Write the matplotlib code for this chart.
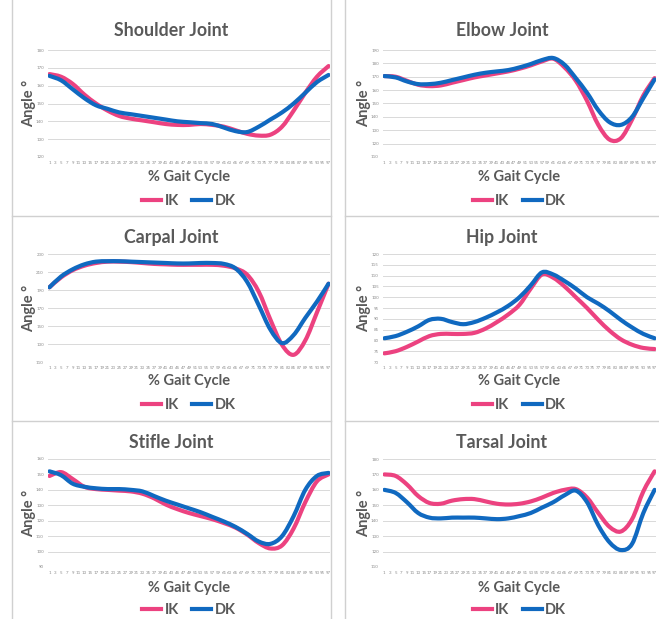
import numpy as np
import matplotlib.pyplot as plt
from matplotlib.lines import Line2D
from matplotlib.path import Path
from matplotlib.patches import PathPatch

plt.rcParams['font.family'] = ['Lato', 'DejaVu Sans']

# % gait cycle sample points
pct = list(range(1, 98, 4))

shoulder_ik = [166.5, 165, 161, 155, 150, 146, 143, 141.5, 140.5, 139.5, 138.5, 138, 138,
               138.5, 138, 137, 135, 133, 132, 132.5, 137, 146, 156, 165, 171]
shoulder_dk = [165.5, 163, 158, 153, 149, 147, 145, 144, 143, 142, 141, 140, 139.5,
               139, 138.5, 136.5, 134.5, 134, 137, 141, 145, 150, 156, 162, 166]

elbow_ik = [170.5, 170, 167, 164, 163, 163.5, 165.5, 167.5, 169.5, 171, 172.5, 174, 176,
            178.5, 181.5, 183.5, 177, 167, 152, 134, 123, 124, 138, 156, 169]
elbow_dk = [170.5, 169.5, 166.5, 164.5, 164.5, 165.5, 167.5, 169.5, 171.5, 173, 174, 175, 177,
            179.5, 182.5, 184, 179, 169, 158, 145, 136, 134, 140, 154, 168]

carpal_ik = [193, 204, 212, 217, 220, 221.5, 221.5, 221, 220, 219, 218.5, 218, 218,
             218, 218, 217, 214, 207, 188, 157, 129, 118, 134, 165, 197]
carpal_dk = [193, 205, 213, 218.5, 221.5, 222, 222, 221.5, 221, 220.5, 220, 219.5, 219.5,
             220, 220, 219, 214, 199, 173, 146, 131, 140, 159, 177, 197]

hip_ik = [74, 75, 77, 79.5, 82, 83, 83, 83, 83.5, 85.5, 88.5, 92, 96.5,
          104, 110.5, 109, 105, 100, 95, 89.5, 84.5, 80.5, 78, 76.5, 76]
hip_dk = [81, 82, 84, 86.5, 89.5, 90, 88.5, 87.5, 88.5, 90.5, 93, 96, 100,
          105.5, 111.5, 110.5, 107.5, 104, 100, 97, 93.5, 89.5, 86, 83, 81]

stifle_ik = [149, 151.5, 147, 142, 140.5, 140, 139.5, 139, 137.5, 134.5, 130.5, 127.5, 125,
             123, 121, 118.5, 115.5, 111, 105.5, 102, 104, 115, 132, 145.5, 150]
stifle_dk = [152, 149.5, 144, 142, 141, 140.5, 140.5, 140, 139, 136, 133, 130.5, 128,
             125.5, 122.5, 119.5, 116, 111.5, 106.5, 105, 110, 123, 140, 149, 151]

tarsal_ik = [170, 169, 163.5, 156, 151.5, 151, 153, 154, 154, 152.5, 151, 150.5, 151,
             152.5, 155, 158, 160, 160.5, 155, 145, 136, 133, 141, 159, 172]
tarsal_dk = [160, 158, 152, 145, 142, 141.5, 142, 142, 142, 141.5, 141, 141.5, 143,
             145, 148.5, 152, 156.5, 159.5, 152, 137, 126, 121, 125, 145, 160]

panels = [
    ("Shoulder Joint", shoulder_ik, shoulder_dk, (120, 180, 10)),
    ("Elbow Joint", elbow_ik, elbow_dk, (110, 190, 10)),
    ("Carpal Joint", carpal_ik, carpal_dk, (110, 230, 20)),
    ("Hip Joint", hip_ik, hip_dk, (70, 120, 5)),
    ("Stifle Joint", stifle_ik, stifle_dk, (90, 160, 10)),
    ("Tarsal Joint", tarsal_ik, tarsal_dk, (110, 180, 10)),
]

W, H = 659, 619
IK_COLOR = '#EC4280'
DK_COLOR = '#1069C0'
TXT = '#595959'
LW = 3.0

fig = plt.figure(figsize=(W / 100, H / 100), dpi=100)


def px_axes(x0, y0, x1, y1):
    return fig.add_axes([x0 / W, 1 - y1 / H, (x1 - x0) / W, (y1 - y0) / H])


def smooth_line(ax, x, y, color):
    # Excel-style smoothed line: cubic bezier segments through every data point
    pts = np.column_stack([x, y]).astype(float)
    n = len(pts)
    verts = [pts[0]]
    codes = [Path.MOVETO]
    for i in range(n - 1):
        p0 = pts[max(i - 1, 0)]
        p1 = pts[i]
        p2 = pts[i + 1]
        p3 = pts[min(i + 2, n - 1)]
        verts += [p1 + (p2 - p0) / 6, p2 - (p3 - p1) / 6, p2]
        codes += [Path.CURVE4] * 3
    ax.add_patch(PathPatch(Path(verts, codes), fill=False, edgecolor=color,
                           lw=LW, capstyle='round', joinstyle='round'))


# pixel layout of each chart: (frame left, frame right, plot left, plot right), rows: (title, plot top, plot bottom, xlabel, legend)
cols = [(12, 331, 48, 330), (345, 659, 383, 656)]
rows = [(31, 50, 157, 177, 201), (237, 254, 362, 381, 405), (442, 459, 567, 588, 610)]

for i, (name, ik, dk, (ymin, ymax, step)) in enumerate(panels):
    fl, fr, pl, pr = cols[i % 2]
    ty, pt, pb, xy, ly = rows[i // 2]
    ax = px_axes(pl, pt, pr, pb)
    smooth_line(ax, pct, ik, IK_COLOR)
    smooth_line(ax, pct, dk, DK_COLOR)
    ax.set_xlim(0.5, 97.5)
    ax.set_ylim(ymin, ymax)
    ax.set_yticks(np.arange(ymin, ymax + 1, step))
    ax.set_xticks(range(1, 98, 2))
    ax.tick_params(length=0, labelsize=3.2, labelcolor='#8c8c8c', pad=3)
    ax.grid(axis='y', color='#d9d9d9', lw=0.7)
    ax.set_axisbelow(True)
    for s in ax.spines.values():
        s.set_visible(False)

    cx = (fl + fr) / 2
    fig.text(cx / W, 1 - ty / H, name, ha='center', va='center',
             fontsize=12.8, fontweight='bold', color=TXT)
    fig.text((pl + pr) / 2 / W, 1 - xy / H, '% Gait Cycle', ha='center', va='center',
             fontsize=10.5, fontweight='bold', color=TXT)
    fig.text((pl - 19) / W, 1 - (pt + pb) / 2 / H, 'Angle °', ha='center', va='center',
             rotation=90, fontsize=10.5, fontweight='bold', color=TXT)
    handles = [Line2D([], [], color=IK_COLOR, lw=LW, label='IK'),
               Line2D([], [], color=DK_COLOR, lw=LW, label='DK')]
    ax.legend(handles=handles, loc='center', bbox_to_anchor=((pl + pr) / 2 / W, 1 - ly / H),
              bbox_transform=fig.transFigure, ncol=2, frameon=False, handlelength=1.3,
              handletextpad=0.25, columnspacing=0.9,
              prop={'size': 10.5, 'weight': 'bold'}, labelcolor=TXT)

# chart frames
for x in (12, 331, 345):
    fig.add_artist(Line2D([x / W, x / W], [0, 1], color='#d0d0d0', lw=1))
for y in (216, 421):
    fig.add_artist(Line2D([12 / W, 331 / W], [1 - y / H, 1 - y / H], color='#d0d0d0', lw=1))
    fig.add_artist(Line2D([345 / W, 1], [1 - y / H, 1 - y / H], color='#d0d0d0', lw=1))

fig.savefig('out.png', dpi=100)
